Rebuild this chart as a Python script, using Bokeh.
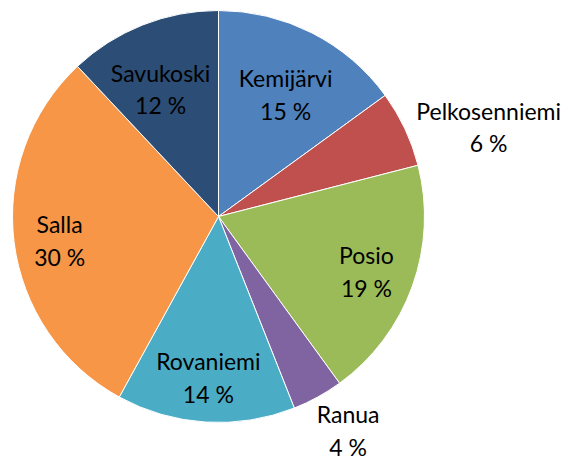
import numpy as np
from bokeh.plotting import figure
from bokeh.models import Range1d, ColumnDataSource
from bokeh.core.properties import value
from bokeh.embed import file_html
from bokeh.resources import INLINE

# Data
names = ["Kemijärvi", "Pelkosenniemi", "Posio", "Ranua", "Rovaniemi", "Salla", "Savukoski"]
shares = [15, 6, 19, 4, 14, 30, 12]
colors = ["#4F81BD", "#C0504D", "#9BBB59", "#8064A2", "#4BACC6", "#F79646", "#2C4D75"]
# label placement (radius factor, angle tweak in degrees)
label_r = [0.676, 1.382, 0.766, 1.215, 0.783, 0.78, 0.678]
label_da = [1.8, 6.8, 0.6, -2.4, 0.0, -1.4, -2.9]

W, H = 568, 463
cx, cy, R = 218, 247, 206

vals = np.array(shares, dtype=float)
frac = vals / vals.sum()
cum = np.concatenate([[0], np.cumsum(frac)])
start = np.pi / 2 - 2 * np.pi * cum[:-1]
end = np.pi / 2 - 2 * np.pi * cum[1:]
mid_deg = 360 * (cum[:-1] + frac / 2) + np.array(label_da)
mid = np.deg2rad(mid_deg)
lx = cx + R * np.array(label_r) * np.sin(mid)
ly = cy + R * np.array(label_r) * np.cos(mid)

src = ColumnDataSource(dict(start=start, end=end, color=colors,
                            label=[f"{n}\n{s} %" for n, s in zip(names, shares)],
                            lx=lx, ly=ly))

p = figure(width=W, height=H, x_range=Range1d(0, W), y_range=Range1d(0, H),
           output_backend="svg", toolbar_location=None, min_border=0)
p.axis.visible = False
p.grid.visible = False
p.outline_line_color = None
p.background_fill_color = "white"

p.wedge(x=cx, y=cy, radius=R, radius_units="screen", start_angle="start", end_angle="end",
        direction="clock", fill_color="color", line_color="white", line_width=1, source=src)

p.text(x="lx", y="ly", text="label", source=src, text_align="center", text_baseline="middle",
       text_font=value("Lato"), text_font_size="23px", text_color="#000000",
       text_line_height=1.15)

open("out.html", "w").write(file_html(p, INLINE))
